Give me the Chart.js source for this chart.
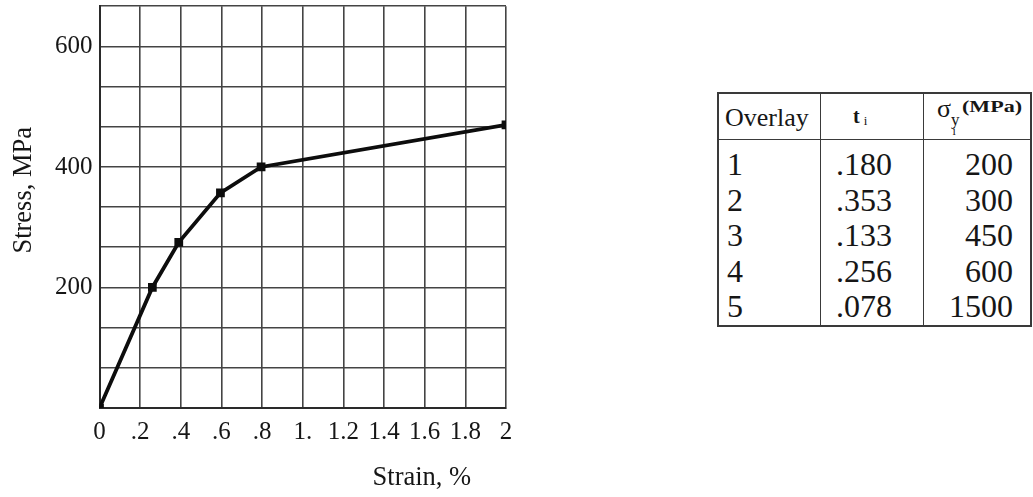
<!DOCTYPE html>
<html>
<head>
<meta charset="utf-8">
<script src="https://cdn.jsdelivr.net/npm/chart.js@4.4.1/dist/chart.umd.min.js"></script>
<style>
html,body{margin:0;padding:0;background:#fff;}
body{width:1033px;height:497px;position:relative;overflow:hidden;font-family:"Liberation Serif","Times New Roman",serif;color:#161616;}
#wrap{position:absolute;left:0;top:-7px;width:540px;height:504px;}
#tbl{position:absolute;left:717px;top:92px;width:315px;height:235px;border:2px solid #3a3a3a;box-sizing:border-box;}
.vl{position:absolute;top:0;bottom:0;width:0;border-left:1.5px solid #3a3a3a;}
.hl{position:absolute;left:0;right:0;height:0;border-top:1.5px solid #3a3a3a;}
.cell{position:absolute;white-space:nowrap;line-height:36px;height:36px;}
</style>
</head>
<body>
<div id="wrap"><canvas id="c"></canvas></div>
<div id="tbl"></div>
<script>
// ---- chart data ----
const strain = [0, 0.26, 0.39, 0.595, 0.795, 2.0];
const stress = [0, 200, 275, 357, 400, 470];
const xTicks = [0, 0.2, 0.4, 0.6, 0.8, 1.0, 1.2, 1.4, 1.6, 1.8, 2.0];
const xTickLabels = ['0', '.2', '.4', '.6', '.8', '1.', '1.2', '1.4', '1.6', '1.8', '2'];
const yTicks = [0, 200/3, 400/3, 200, 800/3, 1000/3, 400, 1400/3, 1600/3, 600, 2000/3];
const yTickLabels = ['', '', '', '200', '', '', '400', '', '', '600', ''];
const xTitle = 'Strain, %';
const yTitle = 'Stress, MPa';

// ---- table data ----
const overlayNums = ['1', '2', '3', '4', '5'];
const tValues = ['.180', '.353', '.133', '.256', '.078'];
const sigmaValues = ['200', '300', '450', '600', '1500'];

const FONT = '"Liberation Serif", "Times New Roman", serif';

const titlePlugin = {
  id: 'axisTitles',
  afterDraw(chart) {
    const ctx = chart.ctx, a = chart.chartArea;
    ctx.save();
    ctx.fillStyle = '#161616';
    ctx.font = '26.5px ' + FONT;
    ctx.textAlign = 'center';
    ctx.textBaseline = 'middle';
    ctx.fillText(xTitle, a.left + 0.793 * (a.right - a.left), 485);
    ctx.translate(24, a.top + 0.458 * (a.bottom - a.top));
    ctx.rotate(-Math.PI / 2);
    ctx.fillText(yTitle, 0, 0);
    ctx.restore();
  }
};

const gridColor = '#444';

new Chart(document.getElementById('c'), {
  type: 'scatter',
  data: {
    datasets: [{
      data: strain.map((s, i) => ({x: s, y: stress[i]})),
      showLine: true,
      borderColor: '#0d0d0d',
      backgroundColor: '#0d0d0d',
      borderWidth: 3.8,
      pointStyle: 'rect',
      pointRadius: 3.5,
      tension: 0
    }]
  },
  options: {
    responsive: true,
    maintainAspectRatio: false,
    animation: false,
    layout: {padding: {left: 48, right: 34, top: 6, bottom: 41}},
    plugins: {legend: {display: false}, tooltip: {enabled: false}},
    scales: {
      x: {
        type: 'linear', min: 0, max: 2,
        afterBuildTicks: s => { s.ticks = xTicks.map(v => ({value: v})); },
        ticks: {
          callback: (v, i) => xTickLabels[i],
          autoSkip: false, maxRotation: 0, padding: 9,
          color: '#161616', font: {family: FONT, size: 25}
        },
        grid: {color: gridColor, lineWidth: 1.6, drawTicks: false},
        border: {color: '#2a2a2a', width: 2}
      },
      y: {
        type: 'linear', min: 0, max: 2000/3,
        afterBuildTicks: s => { s.ticks = yTicks.map(v => ({value: v})); },
        ticks: {
          callback: (v, i) => yTickLabels[i],
          autoSkip: false, padding: 7,
          color: '#161616', font: {family: FONT, size: 25, lineHeight: 0.5}
        },
        grid: {color: gridColor, lineWidth: 1.6, drawTicks: false},
        border: {color: '#2a2a2a', width: 2}
      }
    }
  },
  plugins: [titlePlugin]
});

// ---- table ----
const tbl = document.getElementById('tbl');
function add(html, style, cls) {
  const d = document.createElement('div');
  d.className = cls || 'cell';
  d.innerHTML = html;
  d.setAttribute('style', style);
  tbl.appendChild(d);
  return d;
}
// lines (relative to the table box at 717,92)
add('', 'left:101px;', 'vl');
add('', 'left:204px;', 'vl');
add('', 'top:45px;', 'hl');
// header
add('Overlay', 'left:6px;top:6px;font-size:26px;');
add('<b style="font-size:20px">t</b><span style="font-size:13px;position:relative;top:2px;margin-left:4px">i</span>', 'left:134px;top:4px;');
add('<span style="font-size:26px;position:relative;top:-5px">&sigma;</span>' +
    '<span style="font-size:17px;position:relative;top:3px">y</span>' +
    '<span style="font-size:12px;position:relative;top:13px;margin-left:-7px">i</span>' +
    '<b style="display:inline-block;font-size:17px;position:relative;top:-10px;margin-left:6px;transform:scaleX(1.3);transform-origin:left center">(MPa)</b>',
    'left:218px;top:2px;');
// rows
for (let i = 0; i < overlayNums.length; i++) {
  const top = 52 + i * 35.5;
  add(overlayNums[i], 'left:8px;top:' + top + 'px;font-size:32px;');
  add(tValues[i], 'left:117px;top:' + top + 'px;font-size:32px;');
  add(sigmaValues[i], 'right:17px;top:' + top + 'px;font-size:32px;text-align:right;');
}
</script>
</body>
</html>
